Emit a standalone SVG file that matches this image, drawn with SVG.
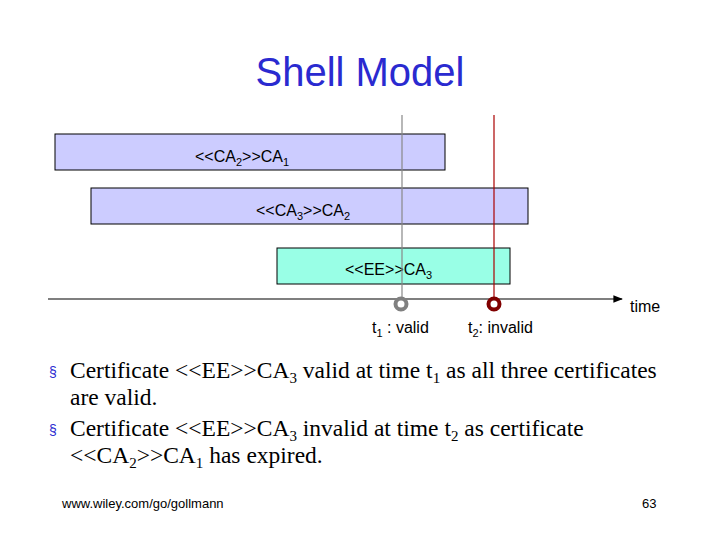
<svg xmlns="http://www.w3.org/2000/svg" width="720" height="540" viewBox="0 0 720 540">
<style>
.s{font-family:"Liberation Sans",Arial,sans-serif;fill:#000}
.b{font-family:"Liberation Serif","Times New Roman",serif;font-size:23.5px;fill:#000}
.box{stroke:#000;stroke-width:1}
</style>
<defs><marker id="ar" viewBox="0 0 10 10" refX="9" refY="5" markerWidth="8" markerHeight="8" orient="auto"><path d="M0,1 L10,5 L0,9z" fill="#000"/></marker></defs>
<rect width="720" height="540" fill="#fff"/>
<text x="360" y="86" text-anchor="middle" font-family="Liberation Sans,Arial,sans-serif" font-size="40" fill="#2a2ad0">Shell Model</text>
<g id="n1"><rect class="box" x="55" y="134" width="390" height="36" fill="#ccccff"/><text class="s" font-size="16" x="195" y="162">&lt;&lt;CA<tspan font-size="11" dy="4">2</tspan><tspan dy="-4">&gt;&gt;CA</tspan><tspan font-size="11" dy="4">1</tspan></text></g>
<g id="n2"><rect class="box" x="91" y="188" width="437" height="36" fill="#ccccff"/><text class="s" font-size="16" x="256" y="216">&lt;&lt;CA<tspan font-size="11" dy="4">3</tspan><tspan dy="-4">&gt;&gt;CA</tspan><tspan font-size="11" dy="4">2</tspan></text></g>
<g id="n3"><rect class="box" x="277" y="248" width="233" height="36" fill="#99ffe6"/><text class="s" font-size="16" x="345" y="275">&lt;&lt;EE&gt;&gt;CA<tspan font-size="11" dy="4">3</tspan></text></g>
<g id="connectors">
<line x1="48" y1="299" x2="622" y2="299" stroke="#000" stroke-width="1.2" marker-end="url(#ar)"/>
<line x1="402" y1="115" x2="402" y2="298" stroke="#888" stroke-width="1.2"/>
<line x1="494" y1="115" x2="494" y2="298" stroke="#aa0000" stroke-width="1.2"/>
<circle cx="401" cy="304" r="5.5" fill="#fff" stroke="#808080" stroke-width="4"/>
<circle cx="494" cy="304" r="5.5" fill="#fff" stroke="#800000" stroke-width="4"/>
</g>
<text class="s" font-size="16" x="630" y="312">time</text>
<text class="s" font-size="16" x="372" y="333">t<tspan font-size="11" dy="4">1</tspan><tspan dy="-4"> : valid</tspan></text>
<text class="s" font-size="16" x="468" y="333">t<tspan font-size="11" dy="4">2</tspan><tspan dy="-4">: invalid</tspan></text>
<text x="49" y="377" font-family="Liberation Sans" font-size="14" fill="#2a2ad0">§</text>
<text class="b" x="70" y="378">Certificate &lt;&lt;EE&gt;&gt;CA<tspan font-size="15" dy="5">3</tspan><tspan dy="-5"> valid at time t</tspan><tspan font-size="15" dy="5">1</tspan><tspan dy="-5"> as all three certificates</tspan></text>
<text class="b" x="70" y="405">are valid.</text>
<text x="49" y="435" font-family="Liberation Sans" font-size="14" fill="#2a2ad0">§</text>
<text class="b" x="70" y="436">Certificate &lt;&lt;EE&gt;&gt;CA<tspan font-size="15" dy="5">3</tspan><tspan dy="-5"> invalid at time t</tspan><tspan font-size="15" dy="5">2</tspan><tspan dy="-5"> as certificate</tspan></text>
<text class="b" x="70" y="463">&lt;&lt;CA<tspan font-size="15" dy="5">2</tspan><tspan dy="-5">&gt;&gt;CA</tspan><tspan font-size="15" dy="5">1</tspan><tspan dy="-5"> has expired.</tspan></text>
<text class="s" font-size="13" x="62" y="508">www.wiley.com/go/gollmann</text>
<text class="s" font-size="13" x="642" y="508">63</text>
</svg>
